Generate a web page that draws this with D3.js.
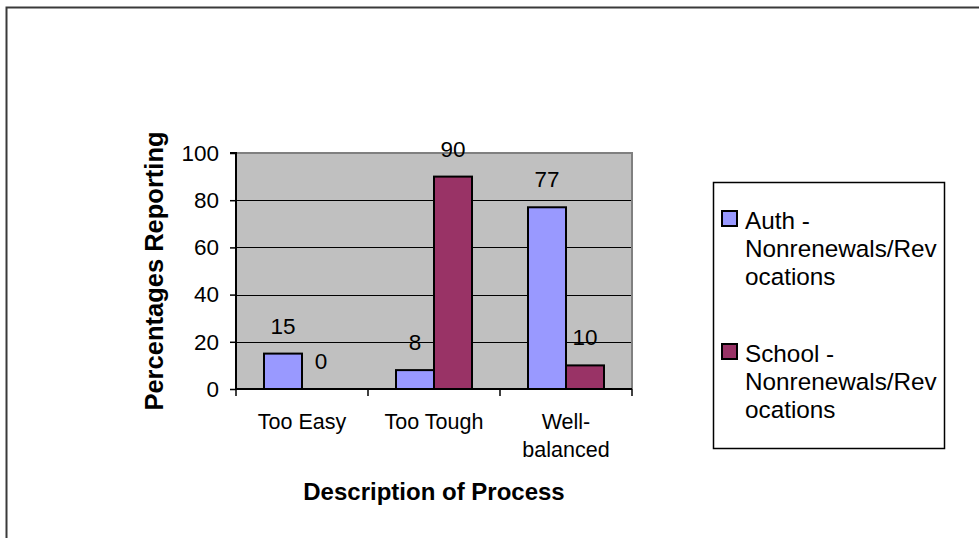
<!DOCTYPE html>
<html>
<head>
<meta charset="utf-8">
<script src="https://cdn.jsdelivr.net/npm/d3@7"></script>
<style>
  body { margin: 0; background: #fff; }
  svg { display: block; font-family: "Liberation Sans", Arial, sans-serif; }
</style>
</head>
<body>
<svg id="chart"></svg>
<script>
// chart values
const categories = ["Too Easy", "Too Tough", "Well-balanced"];
const categoryLines = [["Too Easy"], ["Too Tough"], ["Well-", "balanced"]];
const seriesNames = ["Auth - Nonrenewals/Revocations", "School - Nonrenewals/Revocations"];
const legendLines = [["Auth -", "Nonrenewals/Rev", "ocations"], ["School -", "Nonrenewals/Rev", "ocations"]];
const authValues = [15, 8, 77];
const schoolValues = [0, 90, 10];
const yTicks = [0, 20, 40, 60, 80, 100];
const colors = ["#9999FF", "#993366"];

const width = 979, height = 538;
const plot = {left: 236, right: 632, top: 153, bottom: 389};

const svg = d3.select("#chart")
    .attr("width", width)
    .attr("height", height);

// outer chart border (runs off the page on right/bottom)
svg.append("rect")
    .attr("x", 6.5).attr("y", 7.5)
    .attr("width", 1000).attr("height", 1000)
    .attr("fill", "#fff")
    .attr("stroke", "#3a3a3a")
    .attr("stroke-width", 2);

const xScale = d3.scaleBand()
    .domain(categories)
    .range([plot.left, plot.right])
    .padding(0);

// two bars side by side inside each category
const xSub = d3.scaleBand()
    .domain(seriesNames)
    .range([28, xScale.bandwidth() - 28])
    .padding(0);

const yScale = d3.scaleLinear()
    .domain([0, 100])
    .range([plot.bottom, plot.top]);

// plot background
svg.append("rect")
    .attr("x", plot.left).attr("y", plot.top)
    .attr("width", plot.right - plot.left)
    .attr("height", plot.bottom - plot.top)
    .attr("fill", "#C0C0C0");

// gridlines
svg.append("g")
    .selectAll("line")
    .data(yTicks.filter(d => d > 0 && d < 100))
    .join("line")
        .attr("x1", plot.left).attr("x2", plot.right)
        .attr("y1", d => Math.round(yScale(d)) + 0.5)
        .attr("y2", d => Math.round(yScale(d)) + 0.5)
        .attr("stroke", "#000")
        .attr("stroke-width", 1);

// gray border top & right
svg.append("path")
    .attr("d", `M${plot.left},${plot.top} H${plot.right} V${plot.bottom}`)
    .attr("fill", "none")
    .attr("stroke", "#808080")
    .attr("stroke-width", 2);

// bars
const rows = categories.map((c, i) => [
    {cat: c, series: seriesNames[0], value: authValues[i], color: colors[0]},
    {cat: c, series: seriesNames[1], value: schoolValues[i], color: colors[1]}
]).flat();

svg.append("g")
    .selectAll("rect")
    .data(rows.filter(d => d.value > 0))
    .join("rect")
        .attr("x", d => xScale(d.cat) + xSub(d.series))
        .attr("y", d => yScale(d.value))
        .attr("width", xSub.bandwidth())
        .attr("height", d => yScale(0) - yScale(d.value))
        .attr("fill", d => d.color)
        .attr("stroke", "#000")
        .attr("stroke-width", 2);

// data labels
svg.append("g")
    .selectAll("text")
    .data(rows)
    .join("text")
        .attr("x", d => xScale(d.cat) + xSub(d.series) + xSub.bandwidth() / 2)
        .attr("y", d => yScale(d.value) - 20)
        .attr("text-anchor", "middle")
        .style("font-size", "22.5px")
        .attr("fill", "#000")
        .text(d => d.value);

// y axis
const yAxis = d3.axisLeft(yScale)
    .tickValues(yTicks)
    .tickSize(6)
    .tickPadding(11);

const yAxisGroup = svg.append("g")
    .attr("transform", `translate(${plot.left}, 0)`)
    .call(yAxis);
yAxisGroup.select(".domain").attr("stroke", "#000").attr("stroke-width", 2)
    .attr("d", `M-6,${plot.top}H0V${plot.bottom}`);
yAxisGroup.selectAll(".tick line").attr("stroke", "#000").attr("stroke-width", 1.5);
yAxisGroup.selectAll(".tick text")
    .style("font-size", "22.5px")
    .style("font-family", "Liberation Sans, Arial, sans-serif")
    .attr("fill", "#000");

// x axis: ticks at category boundaries
const xAxisGroup = svg.append("g")
    .attr("transform", `translate(0, ${plot.bottom})`);
xAxisGroup.append("line")
    .attr("x1", plot.left).attr("x2", plot.right)
    .attr("y1", 0).attr("y2", 0)
    .attr("stroke", "#000").attr("stroke-width", 2);
xAxisGroup.selectAll(".xtick")
    .data(categories.map(c => xScale(c)).concat([plot.right]))
    .join("line")
        .attr("class", "xtick")
        .attr("x1", d => d).attr("x2", d => d)
        .attr("y1", 0).attr("y2", 7)
        .attr("stroke", "#000").attr("stroke-width", 1.5);

svg.append("g")
    .selectAll("text")
    .data(categories)
    .join("text")
        .attr("x", d => xScale(d) + xScale.bandwidth() / 2)
        .attr("y", 429)
        .attr("text-anchor", "middle")
        .style("font-size", "21.5px")
        .selectAll("tspan")
        .data((d, i) => categoryLines[i])
        .join("tspan")
            .attr("x", function() { return d3.select(this.parentNode).attr("x"); })
            .attr("dy", (d, i) => i === 0 ? 0 : 28)
            .text(d => d);

// axis titles
svg.append("text")
    .attr("x", (plot.left + plot.right) / 2)
    .attr("y", 500)
    .attr("text-anchor", "middle")
    .style("font-size", "24px")
    .style("font-weight", "bold")
    .text("Description of Process");

svg.append("text")
    .attr("transform", `translate(163, ${(plot.top + plot.bottom) / 2}) rotate(-90)`)
    .attr("text-anchor", "middle")
    .style("font-size", "25.5px")
    .style("font-weight", "bold")
    .text("Percentages Reporting");

// legend
const legend = svg.append("g");
legend.append("rect")
    .attr("x", 713.5).attr("y", 182.5)
    .attr("width", 231).attr("height", 266)
    .attr("fill", "#fff")
    .attr("stroke", "#000")
    .attr("stroke-width", 1.5);

const entries = legend.selectAll(".entry")
    .data(seriesNames)
    .join("g")
        .attr("class", "entry")
        .attr("transform", (d, i) => `translate(0, ${i * 133})`);

entries.append("rect")
    .attr("x", 722).attr("y", 211)
    .attr("width", 15).attr("height", 15)
    .attr("fill", (d, i) => colors[i])
    .attr("stroke", "#000")
    .attr("stroke-width", 2);

entries.append("text")
    .style("font-size", "24.3px")
    .selectAll("tspan")
    .data((d, i) => legendLines[i])
    .join("tspan")
        .attr("x", 745)
        .attr("y", (d, i) => 229 + i * 28)
        .text(d => d);
</script>
</body>
</html>
